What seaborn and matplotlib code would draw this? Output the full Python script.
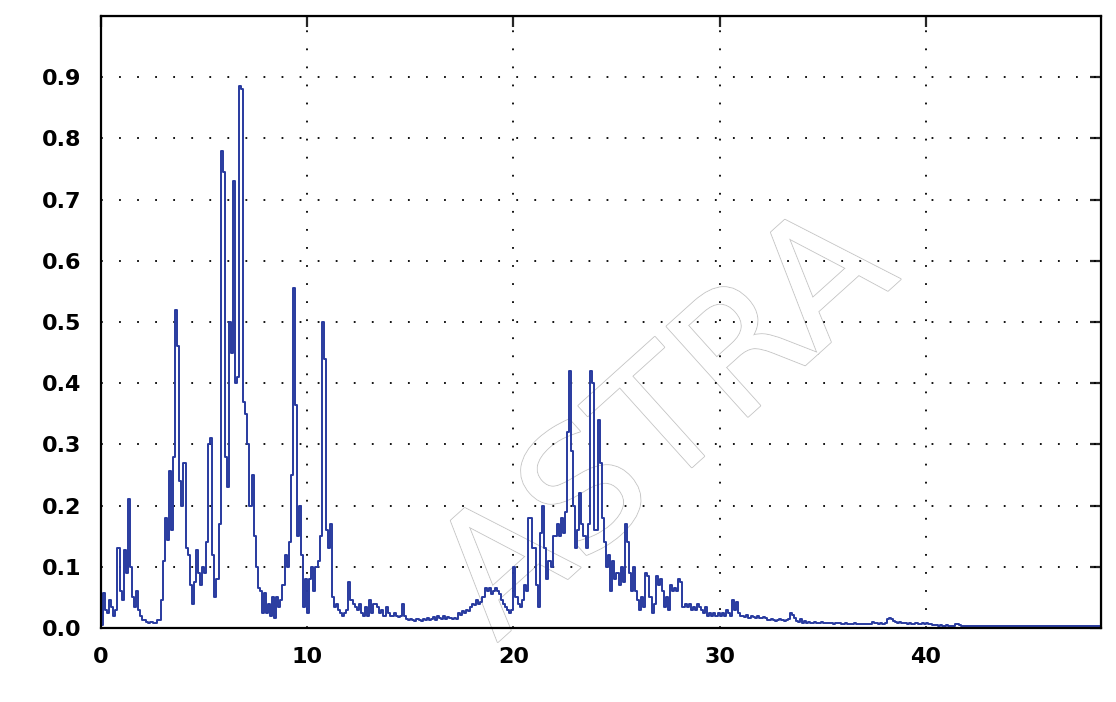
import numpy as np
import pandas as pd
import seaborn as sns
import matplotlib.pyplot as plt
import matplotlib.patheffects as pe

# spectrum amplitude, one value per 0.1 bin, row = one unit of x
amp_0_9 = [
    0.005, 0.057, 0.03, 0.025, 0.046, 0.035, 0.02, 0.03, 0.13, 0.06,
    0.046, 0.127, 0.09, 0.21, 0.10, 0.05, 0.035, 0.06, 0.03, 0.02,
    0.013, 0.013, 0.01, 0.008, 0.01, 0.008, 0.008, 0.013, 0.013, 0.046,
    0.11, 0.18, 0.143, 0.257, 0.16, 0.28, 0.52, 0.46, 0.24, 0.20,
    0.27, 0.13, 0.12, 0.07, 0.04, 0.075, 0.127, 0.09, 0.07, 0.10,
    0.09, 0.14, 0.30, 0.31, 0.12, 0.05, 0.08, 0.17, 0.78, 0.745,
    0.28, 0.23, 0.50, 0.45, 0.73, 0.40, 0.41, 0.885, 0.88, 0.37,
    0.35, 0.30, 0.20, 0.25, 0.15, 0.10, 0.065, 0.06, 0.025, 0.057,
    0.025, 0.04, 0.02, 0.05, 0.016, 0.05, 0.035, 0.045, 0.07, 0.12,
    0.10, 0.14, 0.25, 0.555, 0.365, 0.15, 0.20, 0.12, 0.035, 0.08,
]
amp_10_19 = [
    0.025, 0.08, 0.10, 0.06, 0.10, 0.11, 0.15, 0.50, 0.44, 0.16,
    0.13, 0.17, 0.05, 0.035, 0.04, 0.03, 0.025, 0.02, 0.025, 0.03,
    0.075, 0.045, 0.04, 0.035, 0.03, 0.04, 0.025, 0.02, 0.035, 0.02,
    0.045, 0.025, 0.04, 0.04, 0.035, 0.025, 0.03, 0.02, 0.035, 0.025,
    0.02, 0.02, 0.025, 0.02, 0.018, 0.02, 0.04, 0.02, 0.015, 0.013,
    0.015, 0.013, 0.012, 0.015, 0.013, 0.012, 0.015, 0.013, 0.016, 0.013,
    0.015, 0.018, 0.013, 0.02, 0.016, 0.015, 0.02, 0.015, 0.018, 0.016,
    0.014, 0.016, 0.015, 0.025, 0.022, 0.028, 0.025, 0.03, 0.027, 0.035,
    0.04, 0.038, 0.045, 0.04, 0.042, 0.05, 0.065, 0.06, 0.065, 0.055,
    0.06, 0.065, 0.06, 0.055, 0.045, 0.04, 0.035, 0.03, 0.025, 0.03,
]
amp_20_29 = [
    0.10, 0.05, 0.04, 0.035, 0.045, 0.07, 0.06, 0.18, 0.18, 0.13,
    0.13, 0.07, 0.035, 0.155, 0.20, 0.13, 0.08, 0.11, 0.10, 0.15,
    0.15, 0.17, 0.15, 0.18, 0.155, 0.19, 0.32, 0.42, 0.29, 0.20,
    0.13, 0.16, 0.22, 0.17, 0.15, 0.13, 0.17, 0.42, 0.40, 0.16,
    0.16, 0.34, 0.27, 0.18, 0.14, 0.10, 0.12, 0.06, 0.11, 0.08,
    0.09, 0.07, 0.10, 0.075, 0.17, 0.14, 0.09, 0.06, 0.10, 0.06,
    0.045, 0.03, 0.05, 0.035, 0.09, 0.085, 0.05, 0.025, 0.04, 0.085,
    0.07, 0.08, 0.06, 0.035, 0.05, 0.03, 0.07, 0.06, 0.065, 0.06,
    0.08, 0.075, 0.035, 0.04, 0.035, 0.04, 0.03, 0.035, 0.03, 0.04,
    0.035, 0.03, 0.025, 0.035, 0.02, 0.025, 0.02, 0.025, 0.02, 0.025,
]
amp_30_39 = [
    0.02, 0.025, 0.02, 0.03, 0.025, 0.02, 0.045, 0.03, 0.043, 0.025,
    0.02, 0.02, 0.018, 0.022, 0.016, 0.02, 0.018, 0.016, 0.02, 0.017,
    0.016, 0.018, 0.016, 0.013, 0.013, 0.014, 0.013, 0.012, 0.013, 0.014,
    0.013, 0.012, 0.013, 0.014, 0.025, 0.022, 0.016, 0.012, 0.01, 0.014,
    0.009, 0.012, 0.008, 0.01, 0.009, 0.008, 0.01, 0.009, 0.008, 0.01,
    0.009, 0.008, 0.008, 0.009, 0.008, 0.007, 0.008, 0.009, 0.008, 0.007,
    0.007, 0.008, 0.007, 0.006, 0.007, 0.008, 0.006, 0.007, 0.006, 0.006,
    0.007, 0.006, 0.006, 0.007, 0.01, 0.008, 0.009, 0.007, 0.008, 0.007,
    0.008, 0.015, 0.016, 0.014, 0.012, 0.01, 0.009, 0.01, 0.008, 0.009,
    0.008, 0.007, 0.008, 0.007, 0.006, 0.008, 0.007, 0.006, 0.008, 0.007,
]
amp_40_48 = [
    0.008, 0.006, 0.007, 0.005, 0.005, 0.005, 0.004, 0.005, 0.004, 0.004,
    0.005, 0.004, 0.004, 0.004, 0.006, 0.006, 0.005, 0.004, 0.004, 0.004,
    0.004, 0.004, 0.003, 0.004, 0.004, 0.004, 0.003, 0.003, 0.004, 0.003,
    0.003, 0.003, 0.003, 0.004, 0.003, 0.003, 0.003, 0.003, 0.003, 0.003,
    0.003, 0.003, 0.004, 0.003, 0.003, 0.003, 0.003, 0.003, 0.003, 0.003,
    0.003, 0.003, 0.003, 0.003, 0.003, 0.004, 0.003, 0.003, 0.003, 0.003,
    0.003, 0.003, 0.003, 0.003, 0.003, 0.003, 0.003, 0.003, 0.003, 0.003,
    0.003, 0.003, 0.003, 0.003, 0.003, 0.003, 0.003, 0.003, 0.004, 0.003,
    0.003, 0.003, 0.003, 0.003, 0.003, 0.003,
]

x_ticks = [0, 10, 20, 30, 40]
y_ticks = [0.0, 0.1, 0.2, 0.3, 0.4, 0.5, 0.6, 0.7, 0.8, 0.9]

amp = amp_0_9 + amp_10_19 + amp_20_29 + amp_30_39 + amp_40_48
df = pd.DataFrame({'freq': np.arange(len(amp)) * 0.1, 'amp': amp})

sns.set_style('white')
plt.rcParams['font.family'] = ['DejaVu Sans']

fig = plt.figure(figsize=(11.16, 7.02), dpi=100)
ax = fig.add_axes([0.0905, 0.1054, 0.8961, 0.8718])

# faint outline watermark behind the data
wm = ax.text(27.5, 0.33, 'ASTRA', fontsize=120, rotation=42, color='white',
             ha='center', va='center', zorder=0.5)
wm.set_path_effects([pe.withStroke(linewidth=1.5, foreground='#c8c8c8'),
                     pe.Normal()])

sns.lineplot(data=df, x='freq', y='amp', ax=ax, color='#283a9f',
             linewidth=1.4, drawstyle='steps-post', estimator=None)

ax.set_xlim(0, 48.5)
ax.set_ylim(0, 1.0)
ax.set_xticks(x_ticks)
ax.set_yticks(y_ticks)
ax.set_xticklabels([str(t) for t in x_ticks])
ax.set_yticklabels([f'{t:.1f}' for t in y_ticks])
ax.set_xlabel('')
ax.set_ylabel('')

ax.grid(True, color='black', linestyle=(0, (1, 9)), linewidth=1.3)
for s in ax.spines.values():
    s.set_color('black')
    s.set_linewidth(1.6)
ax.tick_params(direction='inout', length=16, width=1.6, colors='black',
               labelsize=16, pad=6)
for lab in ax.get_xticklabels() + ax.get_yticklabels():
    lab.set_fontweight('bold')

# inner ticks on top and right
top = ax.secondary_xaxis('top')
top.set_xticks(x_ticks)
top.tick_params(direction='in', length=8, width=1.6, labeltop=False)
right = ax.secondary_yaxis('right')
right.set_yticks(y_ticks)
right.tick_params(direction='in', length=8, width=1.6, labelright=False)

fig.savefig('out.png', dpi=100, facecolor='white')
